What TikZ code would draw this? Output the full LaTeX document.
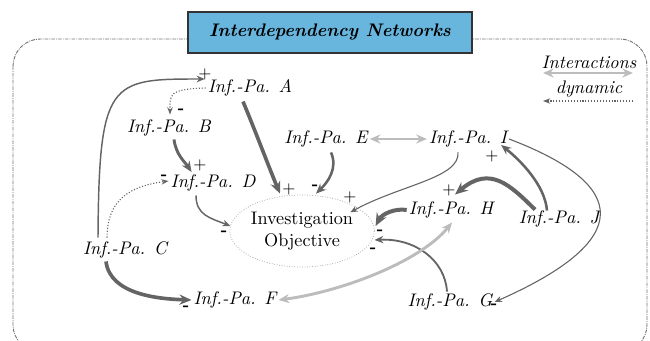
\documentclass[tikz,border=0pt]{standalone}
\usetikzlibrary{arrows.meta,calc,shapes.geometric}
\definecolor{titleblue}{RGB}{104,182,222}
\definecolor{edgegray}{RGB}{100,100,100}
\definecolor{lightedge}{RGB}{188,188,188}
\begin{document}
\begin{tikzpicture}[x=0.55pt,y=-0.55pt,
  pa/.style={font=\itshape, inner sep=1pt},
  plus/.style={font=\small, inner sep=0pt},
  minus/.style={font=\small\bfseries, inner sep=0pt},
  dyn/.style={draw=edgegray, line width=0.6pt, densely dotted, -{Stealth[length=4pt,width=3pt]}},
  link/.style={draw=edgegray, -{Stealth[length=3pt 1.8,width=2.4pt 1.6]}},
  inter/.style={draw=lightedge, line width=1.6pt, {Stealth[length=3pt 1.8,width=2.4pt 1.6]}-{Stealth[length=3pt 1.8,width=2.4pt 1.6]}},
  frame/.style={draw=black!55, line width=0.5pt, dash pattern=on 2pt off 0.6pt on 0.5pt off 0.6pt, rounded corners=15pt}
]
\useasboundingbox (0,0) rectangle (650,341);

% outer frame and title
\draw[frame] (13,39) rectangle (647,352);
\node[draw=black!80, line width=0.8pt, fill=titleblue, minimum width=284*0.55pt, minimum height=41*0.55pt,
      font=\bfseries\itshape] (title) at (330,32.5) {Interdependency Networks};

% legend
\node[pa] (leginter) at (589,62) {Interactions};
\node[pa] (legdyn) at (589,89) {dynamic};
\coordinate (li1) at (543,73);
\coordinate (li2) at (633,73);
\coordinate (ld1) at (633,101);
\coordinate (ld2) at (543,101);
\draw[inter] (li1) -- (li2);
\draw[dyn] (ld1) -- (ld2);

% parameters
\node[pa] (A) at (250,88) {Inf.-Pa. A};
\node[pa] (B) at (169,128) {Inf.-Pa. B};
\node[pa] (E) at (326,139) {Inf.-Pa. E};
\node[pa] (I) at (468,139) {Inf.-Pa. I};
\node[pa] (D) at (213,183) {Inf.-Pa. D};
\node[pa] (H) at (451,210) {Inf.-Pa. H};
\node[pa] (J) at (559,219) {Inf.-Pa. J};
\node[pa] (C) at (125,250) {Inf.-Pa. C};
\node[pa] (F) at (235,300) {Inf.-Pa. F};
\node[pa] (G) at (450,302) {Inf.-Pa. G};

% objective
\node[draw=black!40, densely dotted, line width=0.4pt, ellipse, minimum width=140*0.55pt, minimum height=72*0.55pt,
      align=center, inner sep=0pt] (O) at (302,231) {Investigation\\Objective};

% signs
\node[plus] (sCA) at (205,74) {+};
\node[minus] (sAB) at (181,111) {-};
\node[plus] (sBD) at (200,165) {+};
\node[plus] (sAO) at (289,189) {+};
\node[minus] (sCD) at (164,177) {-};
\node[minus] (sDO) at (224,233) {-};
\node[minus] (sEO) at (315,187) {-};
\node[plus] (sIO) at (350,197) {+};
\node[plus] (sJI) at (492,156) {+};
\node[plus] (sJH) at (449,190) {+};
\node[minus] (sIG) at (494,306) {-};
\node[minus] (sHO) at (380,232) {-};
\node[minus] (sGO) at (373,250) {-};
\node[minus] (sCF) at (186,308) {-};

% connectors
\draw[link, line width=0.8pt] ($(C.north)+(-27,-2)$) .. controls (99,80) and (110,79) .. ($(A.west)+(-1,-9)$);
\draw[dyn] (A.west) .. controls (168,89) and (170,95) .. ($(B.north)+(1,-3)$);
\draw[link, line width=1.6pt] ($(B.south)+(5,1)$) .. controls (176,155) and (185,162) .. ($(D.west)+(23,-11)$);
\draw[link, line width=2pt] ($(A.south)+(-7,3)$) .. controls (255,130) and (270,170) .. ($(O.north)+(-22,-1)$);
\draw[dyn] ($(C.north)+(-18,-2)$) .. controls (107,200) and (130,186) .. ($(D.west)+(0,-2)$);
\draw[link, line width=0.8pt] ($(D.south)+(-17,2)$) .. controls (196,215) and (210,218) .. ($(O.west)+(1,-5)$);
\draw[link, line width=1.4pt] ($(E.south)+(5,3)$) .. controls (338,168) and (328,182) .. ($(O.north)+(14,-1)$);
\draw[inter] (E.east) -- (I.west);
\draw[link, line width=0.6pt] ($(I.south)+(-10,3)$) .. controls (460,178) and (400,185) .. ($(O.north east)+(-3,7)$);
\draw[link, line width=1.4pt] ($(J.north)+(-12,2)$) .. controls (545,185) and (520,160) .. ($(I.east)+(-8,6)$);
\draw[link, line width=2.2pt] ($(J.north)+(-24,1)$) .. controls (510,185) and (490,165) .. ($(H.north)+(4,-5)$);
\draw[link, line width=0.6pt] (I.east) .. controls (630,185) and (635,240) .. (G.east);
\draw[link, line width=2.2pt] (H.west) .. controls (395,208) and (382,214) .. ($(O.east)+(1,-5)$);
\draw[link, line width=1pt] ($(G.north)+(-3,0)$) .. controls (445,260) and (415,238) .. ($(O.east)+(0,9)$);
\draw[inter] (F.east) .. controls (340,292) and (420,262) .. ($(H.south)+(1,2)$);
\draw[link, line width=2pt] ($(C.south)+(-19,1)$) .. controls (110,295) and (160,299) .. (F.west);
\end{tikzpicture}
\end{document}
